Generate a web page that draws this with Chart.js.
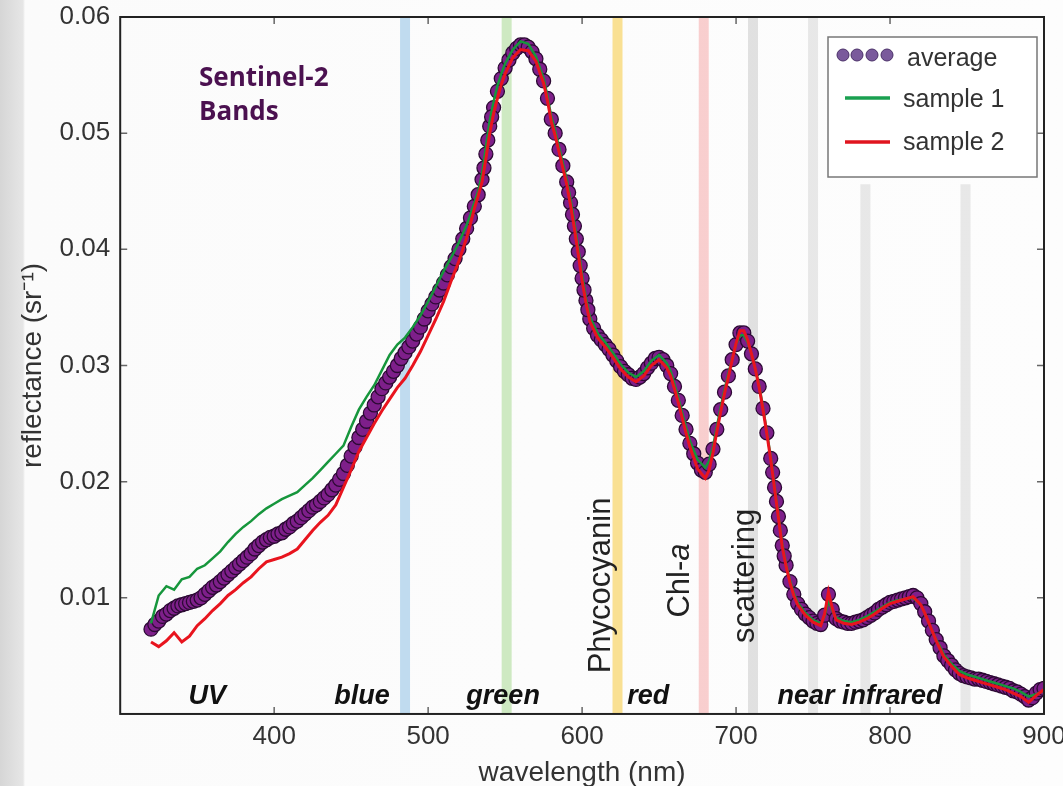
<!DOCTYPE html>
<html>
<head>
<meta charset="utf-8">
<script src="https://cdn.jsdelivr.net/npm/chart.js@4.4.1/dist/chart.umd.min.js"></script>
<style>
  html, body { margin: 0; padding: 0; }
  body {
    width: 1063px;
    height: 786px;
    overflow: hidden;
    background: linear-gradient(to right, #d6d6d6 0px, #e6e6e6 23px, #fbfbfb 25px, #fdfdfd 100%);
  }
</style>
</head>
<body>
<canvas id="chart" width="1063" height="786"></canvas>
<script>
// wavelength (nm) of the two sample readings, denser where the curve is steep
const wavelengths = [
  320, 325, 330, 335, 340, 345, 350, 355, 360, 365,
  370, 375, 380, 385, 390, 395, 400, 405, 410, 415,
  420, 425, 430, 435, 440, 445, 450, 455, 460, 465,
  470, 475, 480, 485, 490, 495, 500, 505, 510, 515,
  520, 525, 527.5, 530, 532.5, 535, 537.5, 540, 542.5, 545,
  547.5, 550, 555, 560, 565, 570, 575, 577.5, 580, 582.5,
  585, 587.5, 590, 592.5, 595, 597.5, 600, 602.5, 605, 610,
  615, 620, 625, 630, 635, 640, 645, 650, 655, 657.5,
  660, 662.5, 665, 667.5, 670, 675, 680, 682.5, 685, 687.5,
  690, 692.5, 695, 697.5, 700, 702.5, 705, 707.5, 710, 712.5,
  715, 717.5, 720, 722.5, 725, 727.5, 730, 732.5, 735, 737.5,
  740, 745, 750, 755, 757.5, 760, 762.5, 765, 770, 775,
  780, 785, 790, 795, 800, 805, 810, 815, 820, 822.5,
  825, 827.5, 830, 832.5, 835, 840, 845, 850, 855, 860,
  865, 870, 875, 880, 885, 890, 895, 900,
]

const sample1 = [
  0.0078, 0.0102, 0.0110, 0.0107, 0.0116, 0.0118, 0.0125, 0.0128, 0.0134, 0.0140,
  0.0148, 0.0155, 0.0161, 0.0166, 0.0172, 0.0177, 0.0181, 0.0185, 0.0188, 0.0191,
  0.0197, 0.0203, 0.0210, 0.0217, 0.0224, 0.0231, 0.0247, 0.0262, 0.0273, 0.0283,
  0.0296, 0.0309, 0.0318, 0.0324, 0.0333, 0.0343, 0.0355, 0.0368, 0.0381, 0.0393,
  0.0406, 0.0421, 0.0430, 0.0440, 0.0450, 0.0465, 0.0488, 0.0511, 0.0527, 0.0541,
  0.0551, 0.0560, 0.0572, 0.0579, 0.0577, 0.0566, 0.0547, 0.0532, 0.0514, 0.0502,
  0.0488, 0.0474, 0.0460, 0.0443, 0.0423, 0.0401, 0.0378, 0.0358, 0.0342, 0.0328,
  0.0320, 0.0311, 0.0301, 0.0294, 0.0290, 0.0295, 0.0304, 0.0309, 0.0302, 0.0295,
  0.0284, 0.0272, 0.0259, 0.0247, 0.0235, 0.0219, 0.0212, 0.0218, 0.0230, 0.0247,
  0.0264, 0.0279, 0.0293, 0.0306, 0.0318, 0.0326, 0.0326, 0.0320, 0.0310, 0.0297,
  0.0283, 0.0264, 0.0243, 0.0221, 0.0196, 0.0171, 0.0146, 0.0129, 0.0115, 0.0104,
  0.0096, 0.0087, 0.0081, 0.0078, 0.0084, 0.0098, 0.0089, 0.0083, 0.0080, 0.0079,
  0.0081, 0.0084, 0.0088, 0.0092, 0.0096, 0.0098, 0.0099, 0.0100, 0.0094, 0.0087,
  0.0079, 0.0071, 0.0064, 0.0058, 0.0051, 0.0043, 0.0037, 0.0034, 0.0032, 0.0030,
  0.0028, 0.0026, 0.0024, 0.0022, 0.0019, 0.0015, 0.0017, 0.0020,
]

const sample2 = [
  0.0062, 0.0058, 0.0063, 0.0070, 0.0062, 0.0067, 0.0076, 0.0082, 0.0089, 0.0095,
  0.0102, 0.0107, 0.0113, 0.0118, 0.0125, 0.0131, 0.0133, 0.0135, 0.0138, 0.0142,
  0.0150, 0.0158, 0.0165, 0.0171, 0.0180, 0.0195, 0.0210, 0.0226, 0.0238, 0.0250,
  0.0261, 0.0271, 0.0281, 0.0289, 0.0300, 0.0312, 0.0326, 0.0340, 0.0355, 0.0373,
  0.0390, 0.0410, 0.0422, 0.0435, 0.0446, 0.0458, 0.0478, 0.0500, 0.0517, 0.0530,
  0.0542, 0.0551, 0.0565, 0.0572, 0.0571, 0.0562, 0.0543, 0.0528, 0.0510, 0.0498,
  0.0484, 0.0470, 0.0456, 0.0438, 0.0418, 0.0396, 0.0373, 0.0354, 0.0338, 0.0324,
  0.0316, 0.0307, 0.0297, 0.0290, 0.0286, 0.0291, 0.0300, 0.0305, 0.0298, 0.0291,
  0.0280, 0.0268, 0.0255, 0.0242, 0.0230, 0.0211, 0.0203, 0.0210, 0.0225, 0.0243,
  0.0260, 0.0276, 0.0290, 0.0305, 0.0319, 0.0330, 0.0330, 0.0322, 0.0310, 0.0297,
  0.0281, 0.0262, 0.0241, 0.0219, 0.0194, 0.0169, 0.0144, 0.0127, 0.0113, 0.0102,
  0.0094, 0.0085, 0.0079, 0.0076, 0.0086, 0.0105, 0.0091, 0.0081, 0.0078, 0.0077,
  0.0079, 0.0082, 0.0086, 0.0091, 0.0095, 0.0097, 0.0099, 0.0101, 0.0094, 0.0087,
  0.0079, 0.0071, 0.0063, 0.0056, 0.0049, 0.0041, 0.0034, 0.0031, 0.0029, 0.0027,
  0.0025, 0.0023, 0.0021, 0.0018, 0.0015, 0.0010, 0.0016, 0.0021,
]

// the average is plotted as dense markers, so it is read at a finer step
const avgWavelengths = [
  320, 322.5, 325, 327.5, 330, 332.5, 335, 337.5, 340, 342.5,
  345, 347.5, 350, 352.5, 355, 357.5, 360, 362.5, 365, 367.5,
  370, 372.5, 375, 377.5, 380, 382.5, 385, 387.5, 390, 392.5,
  395, 397.5, 400, 402.5, 405, 407.5, 410, 412.5, 415, 417.5,
  420, 422.5, 425, 427.5, 430, 432.5, 435, 437.5, 440, 442.5,
  445, 447.5, 450, 452.5, 455, 457.5, 460, 462.5, 465, 467.5,
  470, 472.5, 475, 477.5, 480, 482.5, 485, 487.5, 490, 492.5,
  495, 497.5, 500, 502.5, 505, 507.5, 510, 512.5, 515, 517.5,
  520, 522.5, 525, 527.5, 530, 532.5, 535, 537.5, 540, 542.5,
  545, 547.5, 550, 552.5, 555, 557.5, 560, 562.5, 565, 567.5,
  570, 572.5, 575, 577.5, 580, 582.5, 585, 587.5, 590, 592.5,
  595, 597.5, 600, 602.5, 605, 607.5, 610, 612.5, 615, 617.5,
  620, 622.5, 625, 627.5, 630, 632.5, 635, 637.5, 640, 642.5,
  645, 647.5, 650, 652.5, 655, 657.5, 660, 662.5, 665, 667.5,
  670, 672.5, 675, 677.5, 680, 682.5, 685, 687.5, 690, 692.5,
  695, 697.5, 700, 702.5, 705, 707.5, 710, 712.5, 715, 717.5,
  720, 722.5, 725, 727.5, 730, 732.5, 735, 737.5, 740, 742.5,
  745, 747.5, 750, 752.5, 755, 757.5, 760, 762.5, 765, 767.5,
  770, 772.5, 775, 777.5, 780, 782.5, 785, 787.5, 790, 792.5,
  795, 797.5, 800, 802.5, 805, 807.5, 810, 812.5, 815, 817.5,
  820, 822.5, 825, 827.5, 830, 832.5, 835, 837.5, 840, 842.5,
  845, 847.5, 850, 852.5, 855, 857.5, 860, 862.5, 865, 867.5,
  870, 872.5, 875, 877.5, 880, 882.5, 885, 887.5, 890, 892.5,
  895, 897.5, 900,
  536.25, 538.75, 541.25, 591.25, 593.75, 596.25, 598.75, 601.25, 603.75, 723.75,
  726.25, 728.75, 731.25,
]

const average = [
  0.0073, 0.0077, 0.0080, 0.0084, 0.0086, 0.0089, 0.0091, 0.0093, 0.0094, 0.0095,
  0.0096, 0.0097, 0.0098, 0.0100, 0.0103, 0.0106, 0.0109, 0.0111, 0.0114, 0.0117,
  0.0120, 0.0123, 0.0126, 0.0129, 0.0132, 0.0135, 0.0138, 0.0142, 0.0145, 0.0148,
  0.0150, 0.0152, 0.0153, 0.0155, 0.0156, 0.0159, 0.0161, 0.0164, 0.0166, 0.0169,
  0.0172, 0.0175, 0.0178, 0.0180, 0.0183, 0.0186, 0.0189, 0.0193, 0.0197, 0.0202,
  0.0207, 0.0214, 0.0222, 0.0230, 0.0238, 0.0245, 0.0252, 0.0259, 0.0266, 0.0273,
  0.0280, 0.0285, 0.0290, 0.0295, 0.0300, 0.0306, 0.0311, 0.0316, 0.0321, 0.0327,
  0.0333, 0.0340, 0.0347, 0.0353, 0.0359, 0.0365, 0.0371, 0.0378, 0.0385, 0.0392,
  0.0400, 0.0409, 0.0418, 0.0427, 0.0437, 0.0447, 0.0460, 0.0482, 0.0506, 0.0522,
  0.0536, 0.0547, 0.0556, 0.0563, 0.0569, 0.0573, 0.0576, 0.0576, 0.0574, 0.0570,
  0.0564, 0.0555, 0.0545, 0.0530, 0.0512, 0.0500, 0.0486, 0.0472, 0.0458, 0.0440,
  0.0420, 0.0398, 0.0375, 0.0356, 0.0340, 0.0332, 0.0326, 0.0322, 0.0318, 0.0314,
  0.0309, 0.0304, 0.0299, 0.0295, 0.0292, 0.0289, 0.0288, 0.0290, 0.0293, 0.0298,
  0.0302, 0.0306, 0.0307, 0.0305, 0.0300, 0.0293, 0.0282, 0.0270, 0.0257, 0.0245,
  0.0233, 0.0224, 0.0216, 0.0210, 0.0208, 0.0215, 0.0228, 0.0245, 0.0262, 0.0277,
  0.0291, 0.0305, 0.0318, 0.0328, 0.0328, 0.0321, 0.0310, 0.0297, 0.0282, 0.0263,
  0.0242, 0.0220, 0.0195, 0.0170, 0.0145, 0.0128, 0.0114, 0.0103, 0.0095, 0.0090,
  0.0086, 0.0083, 0.0080, 0.0078, 0.0077, 0.0085, 0.0103, 0.0090, 0.0082, 0.0080,
  0.0079, 0.0078, 0.0078, 0.0079, 0.0080, 0.0081, 0.0083, 0.0085, 0.0087, 0.0090,
  0.0092, 0.0094, 0.0096, 0.0097, 0.0098, 0.0099, 0.0100, 0.0101, 0.0102, 0.0100,
  0.0095, 0.0088, 0.0080, 0.0072, 0.0064, 0.0057, 0.0050, 0.0046, 0.0042, 0.0038,
  0.0035, 0.0033, 0.0032, 0.0031, 0.0030, 0.0030, 0.0029, 0.0028, 0.0027, 0.0026,
  0.0025, 0.0024, 0.0023, 0.0022, 0.0020, 0.0019, 0.0017, 0.0015, 0.0012, 0.0014,
  0.0018, 0.0021, 0.0022,
  0.0470, 0.0494, 0.0514, 0.0449, 0.0430, 0.0409, 0.0386, 0.0365, 0.0348, 0.0208,
  0.0183, 0.0158, 0.0136,
]

// Sentinel-2 band centres (nm) and how high each stripe reaches
const bandCenters = [485, 551, 623, 679, 711, 750, 784, 849]
const bandTops = [0.06, 0.06, 0.06, 0.06, 0.06, 0.06, 0.0456, 0.0456]
const bandColors = [
  "rgba(120, 180, 225, 0.45)",
  "rgba(150, 210, 125, 0.45)",
  "rgba(245, 200, 60, 0.55)",
  "rgba(245, 150, 150, 0.45)",
  "rgba(190, 190, 190, 0.45)",
  "rgba(200, 200, 200, 0.4)",
  "rgba(200, 200, 200, 0.4)",
  "rgba(200, 200, 200, 0.4)",
]

const xTicks = [400, 500, 600, 700, 800, 900]
const yTicks = [0.01, 0.02, 0.03, 0.04, 0.05, 0.06]

const regionLabels = ["UV", "blue", "green", "red", "near infrared"]
const regionLabelAt = [356.5, 457, 548.7, 642.9, 780.5]

const FONT = '"Liberation Sans", Arial, sans-serif'
const TEXT = "#333"

const toPoints = (xs, vals) => xs.map((w, i) => ({ x: w, y: vals[i] }))

const bandsPlugin = {
  id: "bands",
  beforeDatasetsDraw(chart) {
    const { ctx, chartArea, scales } = chart
    ctx.save()
    bandCenters.forEach((w, i) => {
      const x = scales.x.getPixelForValue(w)
      const top = Math.max(chartArea.top, scales.y.getPixelForValue(bandTops[i]))
      ctx.fillStyle = bandColors[i]
      ctx.fillRect(x - 5, top, 10, chartArea.bottom - top)
    })
    ctx.restore()
  },
}

const framePlugin = {
  id: "frame",
  afterDatasetsDraw(chart) {
    const { ctx, chartArea: a, scales } = chart
    ctx.save()
    // inward tick marks on all four sides
    ctx.strokeStyle = "#666"
    ctx.lineWidth = 1.5
    ctx.beginPath()
    xTicks.forEach((t) => {
      const x = scales.x.getPixelForValue(t)
      ctx.moveTo(x, a.bottom)
      ctx.lineTo(x, a.bottom - 7)
      ctx.moveTo(x, a.top)
      ctx.lineTo(x, a.top + 7)
    })
    yTicks.forEach((t) => {
      const y = scales.y.getPixelForValue(t)
      ctx.moveTo(a.left, y)
      ctx.lineTo(a.left + 7, y)
      ctx.moveTo(a.right, y)
      ctx.lineTo(a.right - 7, y)
    })
    ctx.stroke()

    ctx.strokeStyle = "#222"
    ctx.lineWidth = 2
    ctx.strokeRect(a.left, a.top, a.right - a.left, a.bottom - a.top)

    // legend
    ctx.fillStyle = "#fff"
    ctx.fillRect(828, 37, 209, 140)
    ctx.strokeStyle = "#777"
    ctx.lineWidth = 1.5
    ctx.strokeRect(828, 37, 209, 140)
    ;[843, 857, 872, 887].forEach((cx) => {
      ctx.beginPath()
      ctx.arc(cx, 55, 6, 0, Math.PI * 2)
      ctx.fillStyle = "#7a5a9c"
      ctx.fill()
      ctx.strokeStyle = "#4a3068"
      ctx.lineWidth = 1
      ctx.stroke()
    })
    ctx.lineWidth = 3.5
    ctx.strokeStyle = "#1aa050"
    ctx.beginPath()
    ctx.moveTo(845, 98)
    ctx.lineTo(890, 98)
    ctx.stroke()
    ctx.strokeStyle = "#e0141e"
    ctx.beginPath()
    ctx.moveTo(845, 142)
    ctx.lineTo(890, 142)
    ctx.stroke()
    ctx.fillStyle = TEXT
    ctx.font = "25px " + FONT
    ctx.textAlign = "left"
    ctx.textBaseline = "middle"
    ctx.fillText("average", 907, 59)
    ctx.fillText("sample 1", 903, 100)
    ctx.fillText("sample 2", 903, 143)
    ctx.restore()
  },
  afterDraw(chart) {
    const { ctx, chartArea: a, scales } = chart
    ctx.save()
    ctx.fillStyle = "#111"
    ctx.font = "italic bold 27px " + FONT
    ctx.textAlign = "center"
    ctx.textBaseline = "alphabetic"
    regionLabels.forEach((t, i) => {
      ctx.fillText(t, scales.x.getPixelForValue(regionLabelAt[i]), a.bottom - 10)
    })

    // rotated absorption labels
    const vertical = (parts, w, r) => {
      ctx.save()
      ctx.translate(scales.x.getPixelForValue(w), scales.y.getPixelForValue(r))
      ctx.rotate(-Math.PI / 2)
      ctx.textAlign = "left"
      ctx.textBaseline = "middle"
      ctx.fillStyle = "#222"
      let x = 0
      parts.forEach(([txt, italic]) => {
        ctx.font = (italic ? "italic " : "") + "31px " + FONT
        ctx.fillText(txt, x, 0)
        x += ctx.measureText(txt).width
      })
      ctx.restore()
    }
    vertical([["Phycocyanin", false]], 612.3, 0.0035)
    vertical([["Chl-", false], ["a", true]], 663.6, 0.0083)
    vertical([["scattering", false]], 705.8, 0.0061)

    ctx.fillStyle = "#4b1150"
    ctx.font = 'bold 26px "Open Sans", "Noto Sans", sans-serif'
    ctx.textAlign = "left"
    ctx.textBaseline = "alphabetic"
    ctx.fillText("Sentinel-2", 199, 86)
    ctx.fillText("Bands", 199, 120)
    ctx.restore()
  },
}

new Chart(document.getElementById("chart"), {
  type: "line",
  data: {
    datasets: [
      {
        label: "sample 2",
        data: toPoints(wavelengths, sample2),
        borderColor: "#e8141e",
        borderWidth: 3,
        pointRadius: 0,
        tension: 0,
        order: 1,
      },
      {
        label: "sample 1",
        data: toPoints(wavelengths, sample1),
        borderColor: "#16963c",
        borderWidth: 2.5,
        pointRadius: 0,
        tension: 0,
        order: 2,
      },
      {
        label: "average",
        data: toPoints(avgWavelengths, average),
        showLine: false,
        pointRadius: 7,
        pointBackgroundColor: "#7e1f8a",
        pointBorderColor: "#2c0a34",
        pointBorderWidth: 1.3,
        order: 3,
      },
    ],
  },
  options: {
    responsive: false,
    animation: false,
    events: [],
    layout: { padding: { left: 4, right: 19, top: 17, bottom: 0 } },
    plugins: {
      legend: { display: false },
      tooltip: { enabled: false },
    },
    scales: {
      x: {
        type: "linear",
        min: 300,
        max: 900,
        grid: { display: false, drawTicks: false },
        border: { display: false },
        ticks: {
          stepSize: 100,
          padding: 10,
          color: TEXT,
          font: { family: FONT, size: 26, lineHeight: 1 },
          callback: (v) => (v === 300 ? "" : v),
        },
        title: {
          display: true,
          text: "wavelength (nm)",
          color: TEXT,
          font: { family: FONT, size: 28, lineHeight: 0.93 },
          padding: { top: 0, bottom: 0 },
        },
        afterFit: (scale) => {
          scale.paddingLeft = 0
          scale.paddingRight = 0
        },
      },
      y: {
        min: 0,
        max: 0.06,
        grid: { display: false, drawTicks: false },
        border: { display: false },
        ticks: {
          stepSize: 0.01,
          padding: 10,
          color: TEXT,
          font: { family: FONT, size: 26 },
          callback: (v) => (v < 0.001 ? "" : v.toFixed(2)),
        },
        title: {
          display: true,
          text: "reflectance (sr\u207B\u00B9)",
          color: TEXT,
          font: { family: FONT, size: 28 },
          padding: { top: 12, bottom: 0 },
        },
        afterFit: (scale) => {
          scale.paddingTop = 0
          scale.paddingBottom = 0
        },
      },
    },
  },
  plugins: [bandsPlugin, framePlugin],
})
</script>
</body>
</html>
